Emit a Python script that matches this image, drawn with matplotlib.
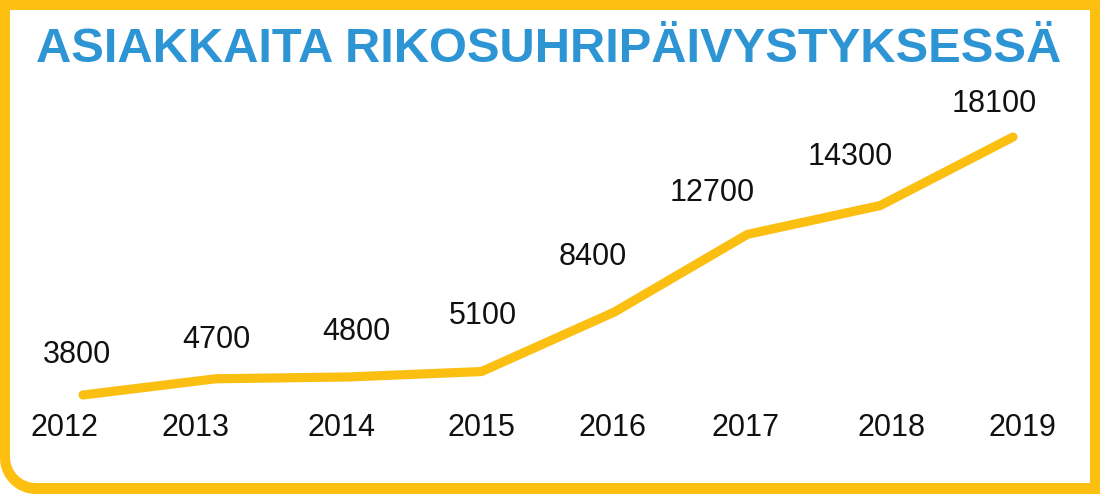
import numpy as np
import matplotlib

matplotlib.use("Agg")
import matplotlib.pyplot as plt  # noqa: E402
from matplotlib.path import Path  # noqa: E402
from matplotlib.patches import PathPatch  # noqa: E402
from matplotlib.transforms import blended_transform_factory  # noqa: E402

years = ["2012", "2013", "2014", "2015", "2016", "2017", "2018", "2019"]
clients = [3800, 4700, 4800, 5100, 8400, 12700, 14300, 18100]
title = "ASIAKKAITA RIKOSUHRIPÄIVYSTYKSESSÄ"

YELLOW = "#fdc010"
LINE = "#fbbf12"
BLUE = "#2e95d4"
W, H = 1100, 494

# label nudges in pixels (value labels sit above-left of the rising points)
val_dx = [-6, 1, 8, 1, -22, -35, -30, -19]
val_dy = [40, 39, 45, 56, 55, 41, 49, 33]
year_dx = [-19, -20, -7, 0, -2, -2, 11, 9]


def rounded_bl(x0, y0, x1, y1, r):
    # rectangle in pixel coords (y down), only the bottom-left corner rounded
    t = np.linspace(0, np.pi / 2, 20)
    arc = [(x0 + r - r * np.sin(a), y1 - r + r * np.cos(a)) for a in t]
    pts = [(x0, y0), (x1, y0), (x1, y1)] + arc + [(x0, y0)]
    codes = [Path.MOVETO] + [Path.LINETO] * (len(pts) - 2) + [Path.CLOSEPOLY]
    return Path(pts, codes)


fig = plt.figure(figsize=(W / 100, H / 100), dpi=100, facecolor="white")

# frame layer in pixel coordinates
bg = fig.add_axes([0, 0, 1, 1])
bg.set_xlim(0, W)
bg.set_ylim(H, 0)
bg.axis("off")
bg.add_patch(PathPatch(rounded_bl(0, 0, W, H, 36), facecolor=YELLOW, edgecolor="none"))
bg.add_patch(PathPatch(rounded_bl(10, 10, 1090, 483, 26), facecolor="white", edgecolor="none"))
bg.text(549, 49, title, color=BLUE, fontsize=35.2, fontweight="bold",
        family="Liberation Sans", ha="center", va="center")

# data layer: index 0 -> 83px, index 7 -> 1013px; 3800 -> 395px, 18100 -> 137px
ax = fig.add_axes([0, 0, 1, 1])
ax.patch.set_alpha(0)
ax.axis("off")
step = (1013 - 83) / 7
ax.set_xlim(-83 / step, (W - 83) / step)
k = (395 - 137) / (18100 - 3800)
ax.set_ylim(3800 - (H - 395) / k, 3800 + 395 / k)

x = np.arange(len(years))
ax.plot(x, clients, color=LINE, lw=6.6, solid_capstyle="round", solid_joinstyle="round")

txt = dict(ha="center", va="center", fontsize=22, family="Liberation Sans", color="#111111")
year_tf = blended_transform_factory(ax.transData, ax.transAxes)
for i, v in enumerate(clients):
    ax.annotate(f"{v}", (x[i], v), xytext=(val_dx[i], val_dy[i]),
                textcoords="offset pixels", **txt)
    ax.text(x[i] + year_dx[i] / step, 1 - 428 / H, years[i], transform=year_tf, **txt)

fig.savefig("out.png", dpi=100, facecolor="white")
